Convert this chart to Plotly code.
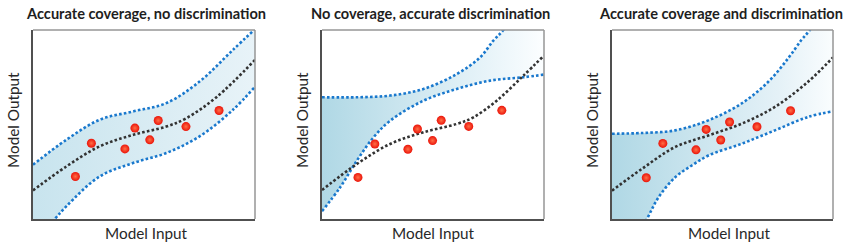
import plotly.graph_objects as go

# ---------------- data (unit coordinates inside each panel) ----------------
TITLES = ["Accurate coverage, no discrimination",
          "No coverage, accurate discrimination",
          "Accurate coverage and discrimination"]
X_LABEL = "Model Input"
Y_LABEL = "Model Output"

# Panel 1
P1_MID_X = [0, 0.15, 0.30, 0.45, 0.60, 0.69, 0.83, 1.0]
P1_MID_Y = [0.151, 0.278, 0.384, 0.445, 0.489, 0.533, 0.648, 0.842]
P1_UP_X = [0, 0.15, 0.30, 0.45, 0.60, 0.75, 0.90, 1.0]
P1_UP_Y = [0.287, 0.419, 0.525, 0.569, 0.613, 0.727, 0.894, 1.005]
P1_LO_X = [0, 0.098, 0.15, 0.30, 0.45, 0.60, 0.75, 0.90, 1.0]
P1_LO_Y = [-0.13, 0.0, 0.067, 0.225, 0.296, 0.349, 0.437, 0.577, 0.70]
P1_PTS_X = [0.191, 0.263, 0.414, 0.459, 0.526, 0.564, 0.689, 0.838]
P1_PTS_Y = [0.225, 0.401, 0.371, 0.481, 0.419, 0.521, 0.489, 0.574]

# Panel 2
P2_MID_X = [0, 0.157, 0.307, 0.457, 0.607, 0.682, 0.787, 0.907, 1.0]
P2_MID_Y = [0.153, 0.291, 0.397, 0.459, 0.503, 0.538, 0.626, 0.758, 0.865]
P2_UP_X = [0, 0.157, 0.307, 0.457, 0.607, 0.712, 0.772, 0.817, 0.9, 1.0]
P2_UP_Y = [0.644, 0.644, 0.653, 0.688, 0.767, 0.855, 0.944, 1.0, 1.15, 1.35]
P2_LO_X = [0, 0.082, 0.157, 0.232, 0.307, 0.457, 0.607, 0.757, 0.907, 1.0]
P2_LO_Y = [0.041, 0.168, 0.309, 0.432, 0.520, 0.626, 0.688, 0.732, 0.750, 0.764]
P2_PTS_X = [0.162, 0.238, 0.387, 0.430, 0.498, 0.537, 0.661, 0.810]
P2_PTS_Y = [0.220, 0.397, 0.369, 0.476, 0.415, 0.522, 0.490, 0.575]

# Panel 3
P3_MID_X = [0, 0.135, 0.286, 0.436, 0.586, 0.737, 0.887, 1.0]
P3_MID_Y = [0.150, 0.265, 0.381, 0.442, 0.504, 0.593, 0.726, 0.855]
P3_UP_X = [0, 0.135, 0.286, 0.436, 0.586, 0.707, 0.797, 0.857, 0.895, 0.95, 1.0]
P3_UP_Y = [0.451, 0.455, 0.469, 0.522, 0.611, 0.726, 0.850, 0.947, 1.0, 1.1, 1.2]
P3_LO_X = [0, 0.08, 0.158, 0.211, 0.286, 0.361, 0.436, 0.586, 0.737, 0.887, 1.0]
P3_LO_Y = [-0.35, -0.17, 0.0, 0.115, 0.221, 0.283, 0.336, 0.398, 0.469, 0.540, 0.570]
P3_PTS_X = [0.155, 0.230, 0.380, 0.426, 0.492, 0.532, 0.656, 0.808]
P3_PTS_Y = [0.218, 0.400, 0.366, 0.474, 0.418, 0.513, 0.488, 0.573]

PANELS = [
    dict(mid=(P1_MID_X, P1_MID_Y), up=(P1_UP_X, P1_UP_Y), lo=(P1_LO_X, P1_LO_Y), pts=(P1_PTS_X, P1_PTS_Y)),
    dict(mid=(P2_MID_X, P2_MID_Y), up=(P2_UP_X, P2_UP_Y), lo=(P2_LO_X, P2_LO_Y), pts=(P2_PTS_X, P2_PTS_Y)),
    dict(mid=(P3_MID_X, P3_MID_Y), up=(P3_UP_X, P3_UP_Y), lo=(P3_LO_X, P3_LO_Y), pts=(P3_PTS_X, P3_PTS_Y)),
]

# ---------------- styling ----------------
W, H = 865, 250
X_DOMAINS = [(33, 255), (322, 544), (612, 833)]   # pixels
Y_DOMAIN_PX = (30, 219)
TITLE_X = [146, 430, 721]
YLAB_X = [13, 302, 592]
XLAB_X = [146, 433, 729]
FILL_SCALES = [
    [[0, "rgb(200,228,238)"], [1, "rgb(232,243,248)"]],
    [[0, "rgb(176,216,229)"], [0.75, "rgb(232,244,249)"], [1, "rgb(252,254,255)"]],
    [[0, "rgb(176,216,229)"], [0.75, "rgb(228,241,247)"], [1, "rgb(250,253,254)"]],
]
BLUE = "rgb(25,120,205)"
DARK = "rgb(50,50,50)"
FONT = "Lato"

fig = go.Figure()
layout = dict(width=W, height=H, margin=dict(l=0, r=0, t=0, b=0),
              paper_bgcolor="white", plot_bgcolor="white", showlegend=False,
              annotations=[], shapes=[])

y0 = 1 - Y_DOMAIN_PX[1] / H
y1 = 1 - Y_DOMAIN_PX[0] / H
for i, p in enumerate(PANELS):
    s = "" if i == 0 else str(i + 1)
    xa, ya = "x" + s, "y" + s
    lo_x, lo_y = p["lo"]
    up_x, up_y = p["up"]
    mx, my = p["mid"]
    px, py = p["pts"]
    fig.add_trace(go.Scatter(x=lo_x, y=lo_y, mode="lines", xaxis=xa, yaxis=ya,
                             line=dict(color=BLUE, width=2.6, dash="2.6px,2.2px", shape="spline"),
                             hoverinfo="skip"))
    fig.add_trace(go.Scatter(x=up_x, y=up_y, mode="lines", xaxis=xa, yaxis=ya,
                             fill="tonexty",
                             fillgradient=dict(type="horizontal", colorscale=FILL_SCALES[i]),
                             line=dict(color=BLUE, width=2.6, dash="2.6px,2.2px", shape="spline"),
                             hoverinfo="skip"))
    fig.add_trace(go.Scatter(x=mx, y=my, mode="lines", xaxis=xa, yaxis=ya,
                             line=dict(color=DARK, width=2.6, dash="2.6px,2.2px", shape="spline"),
                             hoverinfo="skip"))
    fig.add_trace(go.Scatter(x=px, y=py, mode="markers", xaxis=xa, yaxis=ya,
                             marker=dict(size=9, color="rgb(235,20,10)",
                                         gradient=dict(type="radial", color="rgb(255,110,70)"),
                                         line=dict(width=0)),
                             hoverinfo="skip"))
    d0, d1 = X_DOMAINS[i]
    layout["xaxis" + s] = dict(domain=[d0 / W, d1 / W], range=[0, 1], showgrid=False,
                               zeroline=False, showticklabels=False, ticks="",
                               showline=True, linecolor="rgb(80,80,80)", linewidth=1.5,
                               mirror=False, fixedrange=True, anchor=ya)
    layout["yaxis" + s] = dict(domain=[y0, y1], range=[0, 1], showgrid=False,
                               zeroline=False, showticklabels=False, ticks="",
                               showline=True, linecolor="rgb(80,80,80)", linewidth=1.5,
                               mirror=False, fixedrange=True, anchor=xa)
    layout["shapes"].append(dict(type="line", xref=xa + " domain", yref=ya + " domain",
                                 x0=0, x1=1, y0=1, y1=1,
                                 line=dict(color="rgb(150,150,150)", width=1.5)))
    layout["shapes"].append(dict(type="line", xref=xa + " domain", yref=ya + " domain",
                                 x0=1, x1=1, y0=0, y1=1,
                                 line=dict(color="rgb(150,150,150)", width=1.5)))
    layout["annotations"].append(dict(text="<b>" + TITLES[i] + "</b>", xref="paper", yref="paper",
                                      x=TITLE_X[i] / W, y=1 - 13 / H, xanchor="center",
                                      yanchor="middle", showarrow=False,
                                      font=dict(family=FONT, size=14.6, color="rgb(30,30,30)")))
    layout["annotations"].append(dict(text=Y_LABEL, xref="paper", yref="paper",
                                      x=YLAB_X[i] / W, y=1 - 120 / H, xanchor="center",
                                      yanchor="middle", textangle=-90, showarrow=False,
                                      font=dict(family=FONT, size=15.3, color="rgb(40,40,40)")))
    layout["annotations"].append(dict(text=X_LABEL, xref="paper", yref="paper",
                                      x=XLAB_X[i] / W, y=1 - 233 / H, xanchor="center",
                                      yanchor="middle", showarrow=False,
                                      font=dict(family=FONT, size=15.3, color="rgb(40,40,40)")))

fig.update_layout(**layout)
fig.write_html("out.html", config={"displayModeBar": False},
               post_script="document.body.style.margin='0px';document.body.style.padding='0px';")
